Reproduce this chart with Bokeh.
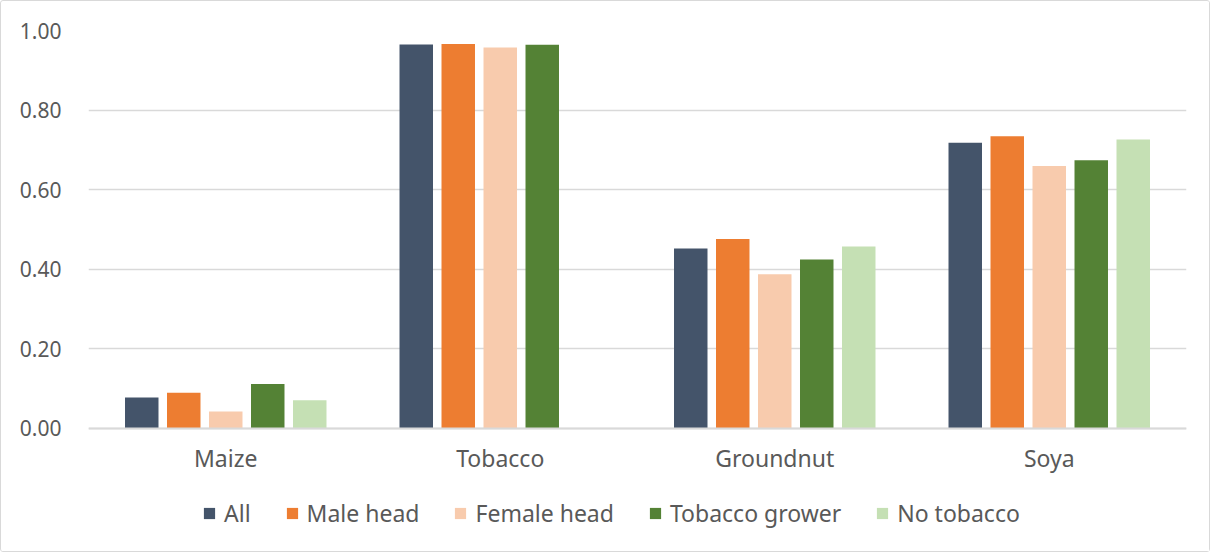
from bokeh.plotting import figure
from bokeh.models import (ColumnDataSource, FactorRange, Range1d, Legend, LegendItem,
                          NumeralTickFormatter, FixedTicker)
from bokeh.transform import dodge
from bokeh.embed import file_html
from bokeh.resources import INLINE

# Share of households growing each crop, by household group
crops = ["Maize", "Tobacco", "Groundnut", "Soya"]
series = ["All", "Male head", "Female head", "Tobacco grower", "No tobacco"]
all_hh = [0.077, 0.965, 0.452, 0.718]
male_head = [0.089, 0.966, 0.476, 0.734]
female_head = [0.042, 0.957, 0.387, 0.659]
tobacco_grower = [0.111, 0.964, 0.424, 0.674]
no_tobacco = [0.070, float("nan"), 0.457, 0.726]
y_ticks = [0.0, 0.2, 0.4, 0.6, 0.8, 1.0]

colors = ["#44546A", "#ED7D31", "#F8CBAD", "#548235", "#C5E0B4"]
values = [all_hh, male_head, female_head, tobacco_grower, no_tobacco]
keys = ["all_hh", "male_head", "female_head", "tobacco_grower", "no_tobacco"]

data = {"crop": crops}
for k, v in zip(keys, values):
    data[k] = v
source = ColumnDataSource(data)

FONT = "Noto Sans"
TEXT = "#595959"
GRID = "#D9D9D9"

# the frame reaches below zero so the category labels and legend sit inside it
p = figure(
    width=1210, height=552,
    x_range=FactorRange(*crops, range_padding=0),
    y_range=Range1d(-0.29, 1.0),
    output_backend="svg", toolbar_location=None,
    min_border_left=87, min_border_right=25,
    min_border_top=29, min_border_bottom=10,
)
p.styles = {"border": "1px solid #D9D9D9", "border-radius": "3px"}
p.outline_line_color = None
p.background_fill_color = "white"
p.border_fill_color = "white"

step = 0.153
bar_w = 0.122
renderers = []
for i, (k, c) in enumerate(zip(keys, colors)):
    off = (i - 2) * step
    r = p.vbar(x=dodge("crop", off, range=p.x_range), top=k, width=bar_w,
               source=source, fill_color=c, line_color=None)
    renderers.append(r)

# axes
p.yaxis.ticker = FixedTicker(ticks=y_ticks)
p.yaxis.formatter = NumeralTickFormatter(format="0.00")
p.yaxis.axis_line_color = None
p.yaxis.major_tick_line_color = None
p.yaxis.minor_tick_line_color = None
p.yaxis.major_label_standoff = 21
p.yaxis.major_label_text_font = FONT
p.yaxis.major_label_text_font_size = "21px"
p.yaxis.major_label_text_color = TEXT

p.xaxis.fixed_location = 0
p.xaxis.axis_line_color = GRID
p.xaxis.axis_line_width = 2
p.xaxis.major_tick_line_color = None
p.xaxis.minor_tick_line_color = None
p.xaxis.major_label_standoff = 8
p.xaxis.major_label_text_font = FONT
p.xaxis.major_label_text_font_size = "23px"
p.xaxis.major_label_text_color = TEXT

p.xgrid.grid_line_color = None
p.ygrid.grid_line_color = GRID
p.ygrid.grid_line_width = 1.5

legend = Legend(
    items=[LegendItem(label=s, renderers=[r]) for s, r in zip(series, renderers)],
    orientation="horizontal",
    location=(114, 14),
    glyph_width=14, glyph_height=14,
    label_standoff=8, spacing=34,
    padding=0, margin=0,
    border_line_color=None, background_fill_alpha=0,
    label_text_font=FONT, label_text_font_size="23px", label_text_color=TEXT,
)
p.add_layout(legend, "center")

open("out.html", "w").write(file_html(p, INLINE))
